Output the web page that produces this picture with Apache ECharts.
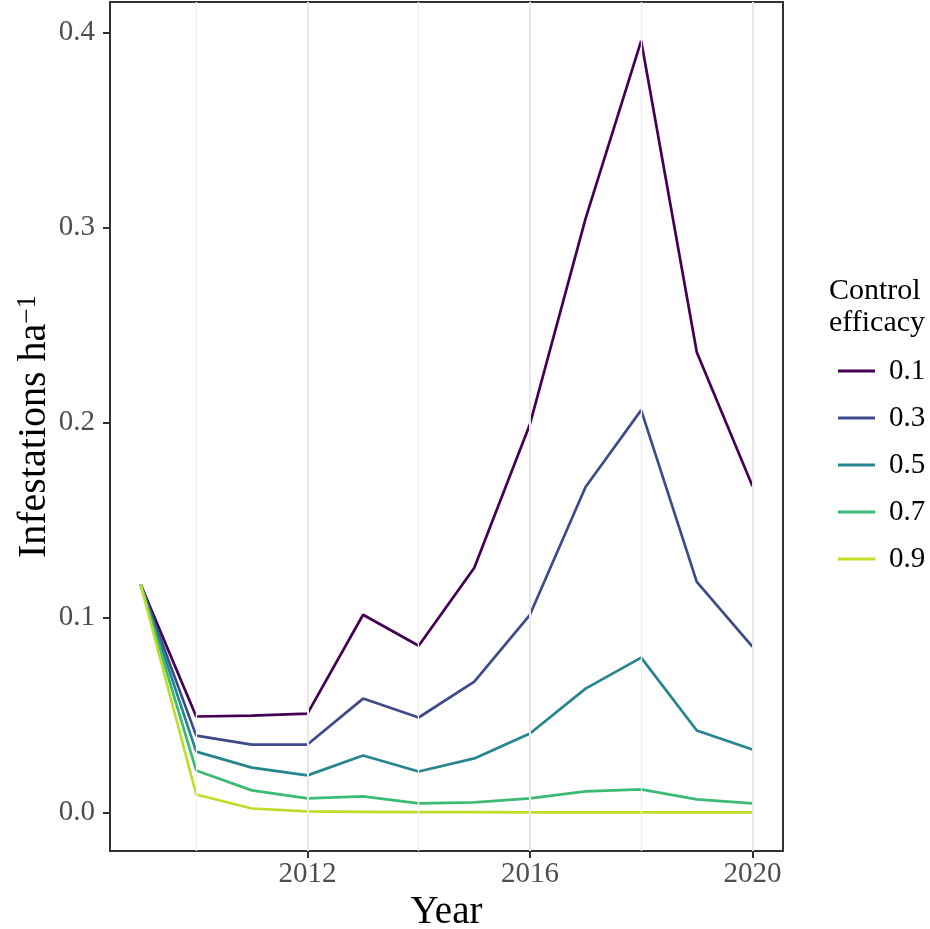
<!DOCTYPE html>
<html>
<head>
<meta charset="utf-8">
<script src="https://cdn.jsdelivr.net/npm/echarts@6/dist/echarts.min.js"></script>
<style>
  html, body { margin: 0; padding: 0; background: #fff; }
  #chart { width: 930px; height: 929px; }
</style>
</head>
<body>
<div id="chart"></div>
<script>
// years on the x axis
const years = [2009, 2010, 2011, 2012, 2013, 2014, 2015, 2016, 2017, 2018, 2019, 2020];

// infestations per ha for each control efficacy
const eff01 = [0.117, 0.0492, 0.0497, 0.0507, 0.1014, 0.0855, 0.1255, 0.1992, 0.3047, 0.3959, 0.2361, 0.1675];
const eff03 = [0.117, 0.0394, 0.0348, 0.0348, 0.0584, 0.0487, 0.0671, 0.1014, 0.1670, 0.2064, 0.1183, 0.0850];
const eff05 = [0.117, 0.0312, 0.0230, 0.0190, 0.0292, 0.0210, 0.0277, 0.0405, 0.0635, 0.0794, 0.0420, 0.0323];
const eff07 = [0.117, 0.0215, 0.0113, 0.0072, 0.0082, 0.0046, 0.0051, 0.0072, 0.0108, 0.0118, 0.0067, 0.0046];
const eff09 = [0.117, 0.0092, 0.0020, 0.0005, 0.0003, 0.0001, 0.0001, 0.0000, 0.0000, 0.0000, 0.0000, 0.0000];

const seriesNames = ['0.1', '0.3', '0.5', '0.7', '0.9'];
const seriesValues = [eff01, eff03, eff05, eff07, eff09];
const colors = ['#440154', '#3E4B8A', '#26858E', '#3CBB75', '#BBDF27'];

const xTicks = [2012, 2016, 2020];
const xMinorGrid = [2010, 2014, 2018];
const yTicks = [0, 0.1, 0.2, 0.3, 0.4];

const FONT = 'Liberation Serif';

const chart = echarts.init(document.getElementById('chart'));

const series = seriesNames.map((name, i) => ({
  name: name,
  type: 'line',
  data: years.map((y, j) => [y, seriesValues[i][j]]),
  symbol: 'none',
  lineStyle: { width: 2.7, color: colors[i] },
  itemStyle: { color: colors[i] },
  z: 3,
  silent: true
}));

// grid lines drawn as markLines on an empty helper series
series.unshift({
  type: 'line',
  data: [],
  silent: true,
  z: 1,
  markLine: {
    symbol: 'none',
    silent: true,
    label: { show: false },
    data: xTicks.map(v => ({ xAxis: v, lineStyle: { color: '#E8E8E8', width: 2, type: 'solid' } }))
      .concat(xMinorGrid.map(v => ({ xAxis: v, lineStyle: { color: '#EDEDED', width: 1.3, type: 'solid' } })))
  }
});

chart.setOption({
  animation: false,
  backgroundColor: '#fff',
  grid: {
    left: 110, right: 147, top: 2, bottom: 78,
    outerBoundsMode: 'none',
    containLabel: false,
    show: true, borderColor: '#333', borderWidth: 2, backgroundColor: 'transparent'
  },
  xAxis: {
    type: 'value',
    min: 2008.45,
    max: 2020.55,
    name: 'Year',
    nameLocation: 'middle',
    nameGap: 42,
    nameMoveOverlap: false,
    nameTextStyle: { fontFamily: FONT, fontSize: 39, color: '#000' },
    axisLine: { show: true, onZero: false, lineStyle: { color: '#333', width: 2 } },
    axisTick: { show: true, length: 7, lineStyle: { color: '#333', width: 2 }, customValues: xTicks },
    axisLabel: {
      fontFamily: FONT, fontSize: 29, color: '#4D4D4D', margin: 9,
      customValues: xTicks,
      formatter: v => String(v)
    },
    splitLine: { show: false }
  },
  yAxis: {
    type: 'value',
    min: -0.0198,
    max: 0.4158,
    name: '{m|Infestations ha}{s|−1}',
    nameLocation: 'middle',
    nameRotate: 90,
    nameGap: 55,
    nameMoveOverlap: false,
    nameTextStyle: {
      fontFamily: FONT, fontSize: 40, color: '#000',
      rich: {
        m: { fontFamily: FONT, fontSize: 40, color: '#000' },
        s: { fontFamily: FONT, fontSize: 27, color: '#000', verticalAlign: 'top', padding: [0, 0, 14, 0] }
      }
    },
    axisLine: { show: true, onZero: false, lineStyle: { color: '#333', width: 2 } },
    axisTick: { show: true, length: 7, lineStyle: { color: '#333', width: 2 }, customValues: yTicks },
    axisLabel: {
      fontFamily: FONT, fontSize: 29, color: '#4D4D4D', margin: 15,
      customValues: yTicks,
      formatter: v => v.toFixed(1)
    },
    splitLine: { show: false }
  },
  legend: {
    data: seriesNames,
    orient: 'vertical',
    left: 833,
    top: 351,
    itemWidth: 37,
    itemHeight: 3,
    itemGap: 17,
    icon: 'rect',
    textStyle: { fontFamily: FONT, fontSize: 29, color: '#000', lineHeight: 30, padding: [0, 0, 0, 9] }
  },
  graphic: [{
    type: 'text',
    left: 829,
    top: 275,
    style: {
      text: 'Control\nefficacy',
      fontFamily: FONT,
      fontSize: 30,
      lineHeight: 32,
      fill: '#000'
    }
  }],
  series: series
});
</script>
</body>
</html>
